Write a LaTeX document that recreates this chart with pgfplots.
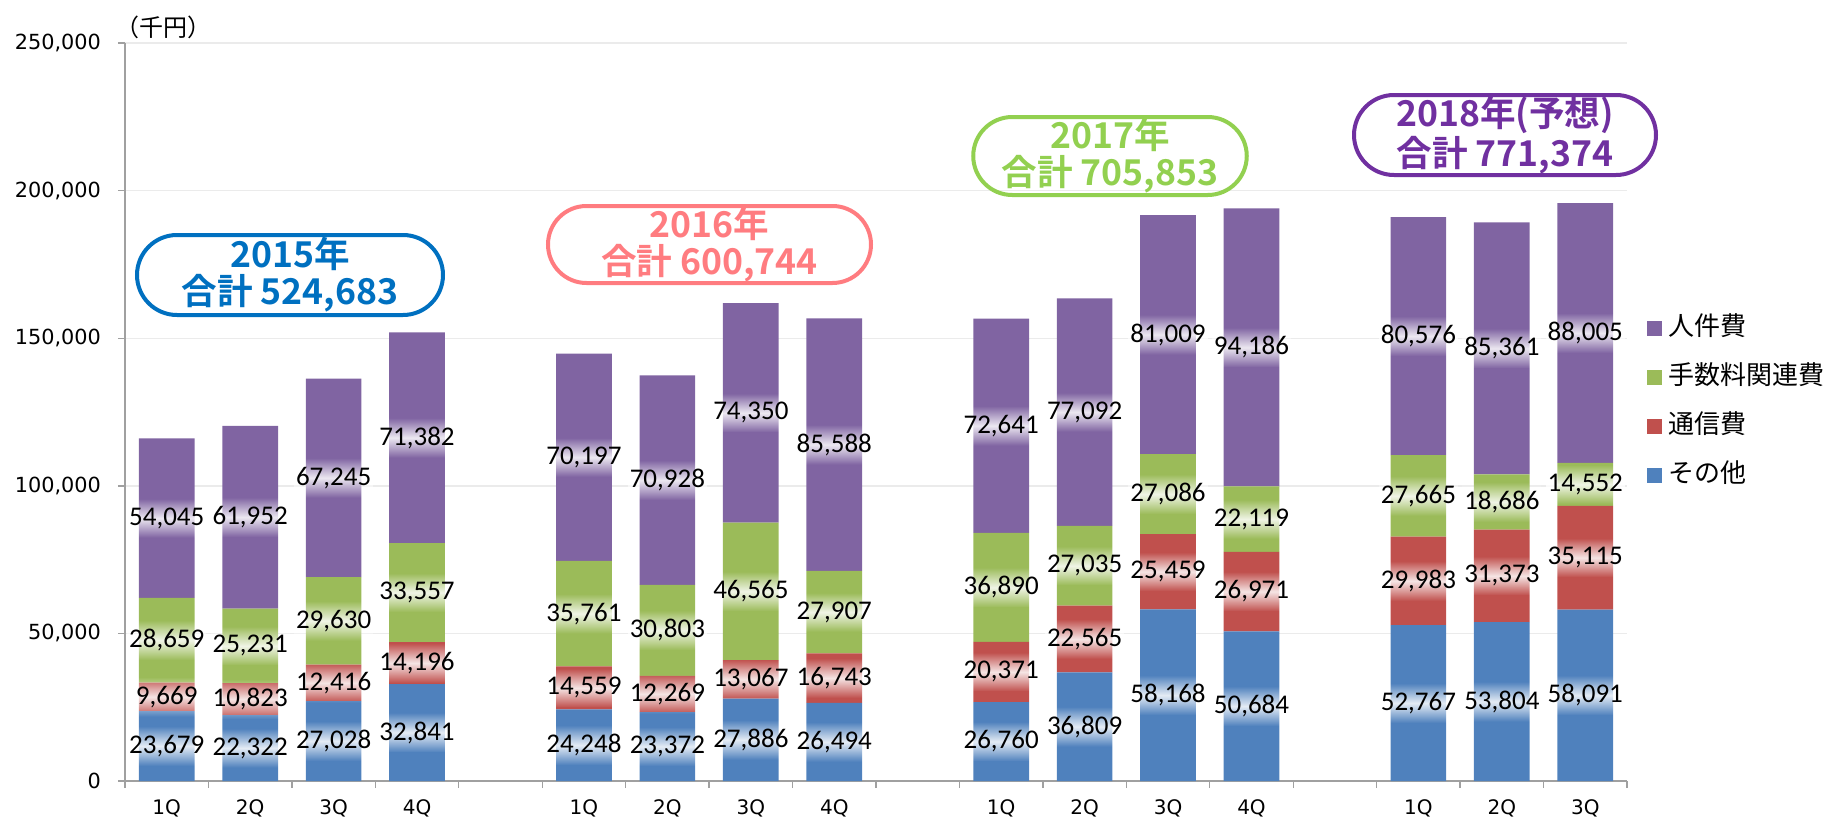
\documentclass[border=0pt]{standalone}
\usepackage{fontspec}
\usepackage{pgfplots}
\usepackage{pgfplotstable}
\pgfplotsset{compat=1.18}
\usetikzlibrary{fadings,shapes.misc}
\setmainfont{Carlito}
\newfontfamily\jp{Noto Sans CJK JP}[BoldFont={Noto Sans CJK JP Bold}]
\newfontfamily\lab{Carlito}
\newfontfamily\tk{DejaVu Sans}

\definecolor{cblue}{HTML}{4F81BD}
\definecolor{cred}{HTML}{C0504D}
\definecolor{cgreen}{HTML}{9BBB59}
\definecolor{cpurple}{HTML}{8064A2}
\definecolor{a15}{HTML}{0070C0}
\definecolor{a16}{HTML}{FF7C80}
\definecolor{a17}{HTML}{92D050}
\definecolor{a18}{HTML}{7030A0}
\definecolor{axisgray}{HTML}{A0A0A0}
\definecolor{gridgray}{HTML}{EBEBEB}

\tikzfading[name=glowfade, top color=transparent!100, bottom color=transparent!100, middle color=transparent!15]

\pgfplotstableread{
x b r g p
0 23679 9669 28659 54045
1 22322 10823 25231 61952
2 27028 12416 29630 67245
3 32841 14196 33557 71382
5 24248 14559 35761 70197
6 23372 12269 30803 70928
7 27886 13067 46565 74350
8 26494 16743 27907 85588
10 26760 20371 36890 72641
11 36809 22565 27035 77092
12 58168 25459 27086 81009
13 50684 26971 22119 94186
15 52767 29983 27665 80576
16 53804 31373 18686 85361
17 58091 35115 14552 88005
}\data

\pgfplotsset{
  base/.style={
    at={(0,0)}, anchor=south west, scale only axis,
    width=751pt, height=369pt,
    xmin=-0.5, xmax=17.5, ymin=0, ymax=250000,
    /pgf/number format/.cd, fixed, precision=0, 1000 sep={,}, assume math mode=true, /pgfplots/.cd,
  },
  lbl/.style={draw=none, mark=none, nodes near coords, point meta=explicit,
    every node near coord/.append style={font=\lab\fontsize{13.5}{15}\selectfont,
      text=black, anchor=center, fill=white, path fading=glowfade,
      inner xsep=1pt, inner ysep=4.5pt}},
}

\begin{document}
\begin{tikzpicture}
\path[use as bounding box] (-62.5pt,-23pt) rectangle (854pt,390.5pt);
\begin{axis}[base,
  ybar stacked, bar width=27.85pt,
  axis x line=bottom, axis y line=left,
  axis line style={-, draw=axisgray, line width=0.7pt},
  ytick={0,50000,100000,150000,200000,250000},
  scaled y ticks=false,
  yticklabel style={font=\tk\fontsize{10.4}{12}\selectfont, xshift=-5pt},
  ymajorgrids, grid style={draw=gridgray, line width=0.7pt},
  tick align=outside, major tick length=3.5pt,
  tick style={draw=axisgray, line width=0.7pt},
  xtick={-0.5,0.5,...,17.5}, xticklabels={},
  extra x ticks={0,1,2,3,5,6,7,8,10,11,12,13,15,16,17},
  extra x tick labels={1Q,2Q,3Q,4Q,1Q,2Q,3Q,4Q,1Q,2Q,3Q,4Q,1Q,2Q,3Q},
  extra x tick style={major tick length=0pt,
     tick label style={font=\tk\fontsize{10}{12}\selectfont, yshift=-6pt}},
  reverse legend,
  legend style={at={(axis description cs:1.013,0.514)}, anchor=west,
    draw=none, fill=none, inner sep=0pt, row sep=10.5pt, column sep=2pt,
    font=\jp\fontsize{13}{14}\selectfont,
    nodes={inner sep=1.5pt, text height=9pt, text depth=2pt}},
  legend cell align=left,
  legend image code/.code={\fill[#1] (0pt,-3.75pt) rectangle (7.5pt,3.75pt);},
]
\addplot[fill=cblue, draw=none] table[x=x, y=b] \data;
\addplot[fill=cred, draw=none] table[x=x, y=r] \data;
\addplot[fill=cgreen, draw=none] table[x=x, y=g] \data;
\addplot[fill=cpurple, draw=none] table[x=x, y=p] \data;
\legend{その他,通信費,手数料関連費,人件費}
\end{axis}
\begin{axis}[base, hide axis, clip=false]
\addplot[lbl] table[x=x, y expr=\thisrow{b}/2, meta=b] \data;
\addplot[lbl] table[x=x, y expr=\thisrow{b}+\thisrow{r}/2, meta=r] \data;
\addplot[lbl] table[x=x, y expr=\thisrow{b}+\thisrow{r}+\thisrow{g}/2, meta=g] \data;
\addplot[lbl] table[x=x, y expr=\thisrow{b}+\thisrow{r}+\thisrow{g}+\thisrow{p}/2, meta=p] \data;
\end{axis}
\node[anchor=west, inner sep=0pt, font=\jp\fontsize{12}{13}\selectfont] at (-5pt,377pt) {（千円）};
\tikzset{ann/.style={rounded rectangle, line width=2pt, inner sep=0pt, align=center,
  font=\jp\bfseries\fontsize{17.8}{18.5}\selectfont}}
\node[ann, draw=a15, text=a15, minimum width=153pt, minimum height=40pt] at (82.5pt,253pt) {2015年\\合計 524,683};
\node[ann, draw=a16, text=a16, minimum width=161.5pt, minimum height=38.5pt] at (292.25pt,268.25pt) {2016年\\合計 600,744};
\node[ann, draw=a17, text=a17, minimum width=136.5pt, minimum height=39pt] at (492.5pt,312.5pt) {2017年\\合計 705,853};
\node[ann, draw=a18, text=a18, minimum width=151pt, minimum height=40pt] at (690pt,323pt) {2018年(予想)\\合計 771,374};
\end{tikzpicture}
\end{document}
